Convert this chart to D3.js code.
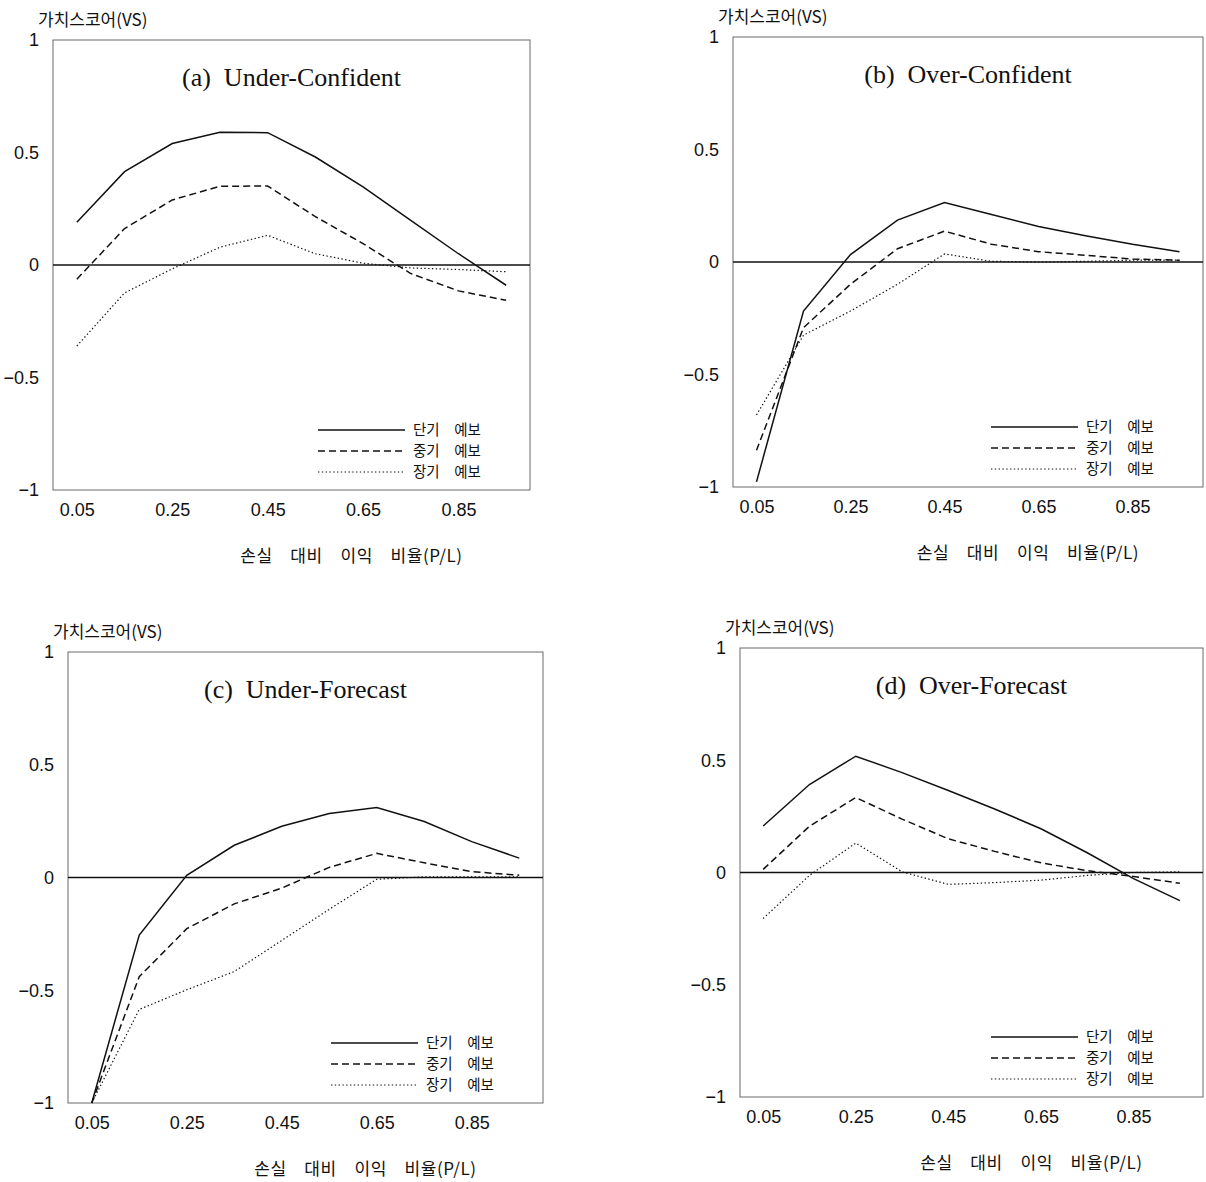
<!DOCTYPE html>
<html>
<head>
<meta charset="utf-8">
<script src="https://cdn.jsdelivr.net/npm/d3@7"></script>
<style>
  body { margin: 0; background: #fff; }
  svg text { white-space: pre; }
</style>
</head>
<body>
<div id="chart"></div>
<script>
// x categories (P/L ratio) and axis labels
const xCats = [0.05, 0.15, 0.25, 0.35, 0.45, 0.55, 0.65, 0.75, 0.85, 0.95];
const xTicks = [0.05, 0.25, 0.45, 0.65, 0.85];
const yTicks = [-1, -0.5, 0, 0.5, 1];
const seriesNames = ["단기 예보", "중기 예보", "장기 예보"];
const panelTitles = ["(a)  Under-Confident", "(b)  Over-Confident", "(c)  Under-Forecast", "(d)  Over-Forecast"];
const yTitle = "가치스코어(VS)";
const xTitle = "손실 대비 이익 비율(P/L)";

// (a) Under-Confident
const ucShort = [0.19, 0.415, 0.54, 0.59, 0.588, 0.48, 0.347, 0.198, 0.05, -0.09];
const ucMid   = [-0.063, 0.162, 0.289, 0.35, 0.351, 0.215, 0.095, -0.038, -0.115, -0.157];
const ucLong  = [-0.36, -0.124, -0.017, 0.079, 0.132, 0.05, 0.008, -0.013, -0.02, -0.03];

// (b) Over-Confident
const ocShort = [-0.977, -0.218, 0.033, 0.186, 0.264, 0.211, 0.158, 0.117, 0.079, 0.046];
const ocMid   = [-0.837, -0.292, -0.099, 0.059, 0.137, 0.079, 0.046, 0.03, 0.013, 0.008];
const ocLong  = [-0.68, -0.325, -0.218, -0.099, 0.036, 0.003, 0, 0.003, 0.008, 0.008];

// (c) Under-Forecast
const ufShort = [-1.0, -0.255, 0.01, 0.143, 0.227, 0.284, 0.31, 0.248, 0.159, 0.086];
const ufMid   = [-1.0, -0.44, -0.227, -0.117, -0.047, 0.045, 0.107, 0.065, 0.026, 0.01];
const ufLong  = [-1.0, -0.585, -0.498, -0.417, -0.279, -0.141, -0.008, 0.003, 0.003, 0.003];

// (d) Over-Forecast
const ofShort = [0.207, 0.392, 0.518, 0.445, 0.365, 0.283, 0.195, 0.088, -0.027, -0.125];
const ofMid   = [0.014, 0.206, 0.334, 0.238, 0.15, 0.094, 0.043, 0.008, -0.018, -0.048];
const ofLong  = [-0.205, -0.013, 0.131, 0.003, -0.053, -0.045, -0.034, -0.013, 0.0, 0.003];

const seriesData = [
    [ucShort, ucMid, ucLong],
    [ocShort, ocMid, ocLong],
    [ufShort, ufMid, ufLong],
    [ofShort, ofMid, ofLong]
];

// plot box of each panel (left, top, right, bottom)
const boxes = [
    {left: 53,  top: 40,  right: 530,  bottom: 490},
    {left: 733, top: 37,  right: 1203, bottom: 487},
    {left: 68,  top: 652, right: 543,  bottom: 1103},
    {left: 740, top: 648, right: 1203, bottom: 1097}
];

const lineStyles = [
    {dash: null,      width: 1.5},
    {dash: "7,4",     width: 1.5},
    {dash: "1.4,2.4", width: 1.2}
];

const sansKr = "'Noto Sans CJK KR', 'Noto Sans', sans-serif";
const sansLat = "'Liberation Sans', Arial, sans-serif";

const svg = d3.select("#chart")
    .append("svg")
        .attr("width", 1206)
        .attr("height", 1182)
        .style("background", "#fff");

function drawPanel(i) {
    const b = boxes[i];
    const g = svg.append("g");

    const xScale = d3.scalePoint()
        .domain(xCats)
        .range([b.left, b.right])
        .padding(0.5);

    const yScale = d3.scaleLinear()
        .domain([-1, 1])
        .range([b.bottom, b.top]);

    // frame
    g.append("rect")
        .attr("x", b.left)
        .attr("y", b.top)
        .attr("width", b.right - b.left)
        .attr("height", b.bottom - b.top)
        .attr("fill", "none")
        .attr("stroke", "#6a6a6a")
        .attr("stroke-width", 1);

    // y axis labels
    const yAxis = g.append("g")
        .attr("transform", "translate(" + (b.left - 14) + ",0)")
        .call(d3.axisLeft(yScale)
            .tickValues(yTicks)
            .tickSize(0)
            .tickPadding(0)
            .tickFormat(d3.format("")));
    yAxis.select(".domain").remove();
    yAxis.selectAll("text")
        .style("font-family", sansLat)
        .style("font-size", "18px")
        .attr("fill", "#111");

    // x axis labels
    const xAxis = g.append("g")
        .attr("transform", "translate(0," + (b.bottom + 13) + ")")
        .call(d3.axisBottom(xScale)
            .tickValues(xTicks)
            .tickSize(0)
            .tickPadding(0)
            .tickFormat(d3.format(".2f")));
    xAxis.select(".domain").remove();
    xAxis.selectAll("text")
        .style("font-family", sansLat)
        .style("font-size", "18px")
        .attr("fill", "#111");

    // zero line
    g.append("line")
        .attr("x1", b.left)
        .attr("x2", b.right)
        .attr("y1", yScale(0))
        .attr("y2", yScale(0))
        .attr("stroke", "#111")
        .attr("stroke-width", 1.4);

    // series
    const line = d3.line()
        .x((d, j) => xScale(xCats[j]))
        .y(d => yScale(d));

    seriesData[i].forEach((vals, k) => {
        g.append("path")
            .datum(vals)
            .attr("d", line)
            .attr("fill", "none")
            .attr("stroke", "#111")
            .attr("stroke-width", lineStyles[k].width)
            .attr("stroke-dasharray", lineStyles[k].dash);
    });

    // title
    g.append("text")
        .attr("x", (b.left + b.right) / 2)
        .attr("y", b.top + 46)
        .attr("text-anchor", "middle")
        .style("font-family", "'Liberation Serif', 'Times New Roman', serif")
        .style("font-size", "26px")
        .attr("fill", "#111")
        .text(panelTitles[i]);

    // y axis title
    g.append("text")
        .attr("x", b.left - 15)
        .attr("y", b.top - 20)
        .attr("dy", "0.35em")
        .style("font-family", sansKr)
        .style("font-size", "17px")
        .attr("fill", "#111")
        .text(yTitle);

    // x axis title
    g.append("text")
        .attr("x", (b.left + b.right) / 2 + 60)
        .attr("y", b.bottom + 66)
        .attr("dy", "0.35em")
        .attr("text-anchor", "middle")
        .style("font-family", sansKr)
        .style("font-size", "17px")
        .style("letter-spacing", "0.6px")
        .attr("fill", "#111")
        .text(xTitle.replace(/ /g, "\u3000"));

    // legend
    const legend = g.selectAll(".legend")
        .data(seriesNames)
        .enter().append("g")
        .attr("class", "legend")
        .attr("transform", (d, k) => "translate(0," + (b.bottom - 60 + k * 21) + ")");
    legend.append("line")
        .attr("x1", b.right - 212)
        .attr("x2", b.right - 125)
        .attr("stroke", "#111")
        .attr("stroke-width", (d, k) => k === 2 ? 1 : 1.4)
        .attr("stroke-dasharray", (d, k) => lineStyles[k].dash);
    legend.append("text")
        .attr("x", b.right - 117)
        .attr("dy", "0.35em")
        .style("font-family", sansKr)
        .style("font-size", "14.5px")
        .attr("fill", "#111")
        .text(d => d.replace(/ /g, "\u2002\u2002"));
}

boxes.forEach((b, i) => drawPanel(i));
</script>
</body>
</html>
